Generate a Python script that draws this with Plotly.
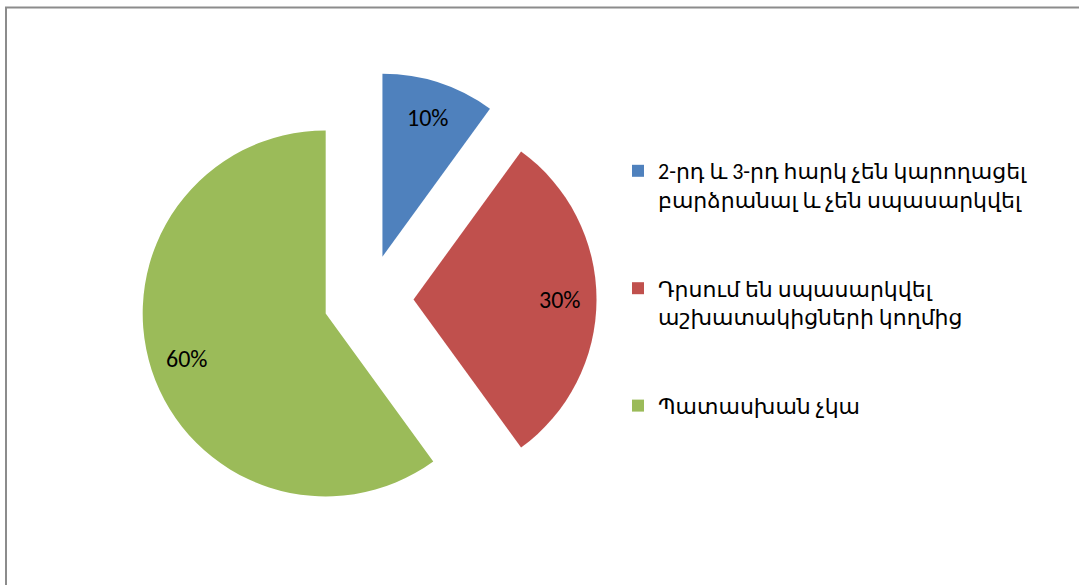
import math
import plotly.graph_objects as go

labels = [
    "2-րդ և 3-րդ հարկ չեն կարողացել<br>բարձրանալ և չեն սպասարկվել",
    "Դրսում են սպասարկվել<br>աշխատակիցների կողմից",
    "Պատասխան չկա",
]
values = [10, 30, 60]
colors = ["#4F81BD", "#C0504D", "#9BBB59"]
pulls = [0.246, 0.246, 0.246]

W, H = 1079, 585
cx, cy = 368.5, 299.5   # pie centre, px
radius = 183.0          # px
box = radius * (2 + 2 * max(pulls))
dom_x = [(cx - box / 2) / W, (cx + box / 2) / W]
dom_y = [1 - (cy + box / 2) / H, 1 - (cy - box / 2) / H]

legend_labels = [lab + "<br> <br> " if i < len(labels) - 1 else lab for i, lab in enumerate(labels)]

fig = go.Figure(
    go.Pie(
        labels=legend_labels,
        values=values,
        marker=dict(colors=colors, line=dict(width=0)),
        pull=pulls,
        sort=False,
        direction="clockwise",
        rotation=0,
        textinfo="none",
        hoverinfo="label+percent",
        domain=dict(x=dom_x, y=dom_y),
    )
)

# percentage labels placed along each slice's mid-angle
total = sum(values)
start = 0.0
for v, p in zip(values, pulls):
    frac = v / total
    mid = (start + frac / 2) * 2 * math.pi
    rr = radius * (p + 0.8)
    lx = cx + rr * math.sin(mid)
    ly = cy - rr * math.cos(mid)
    fig.add_annotation(
        x=lx / W, y=1 - ly / H, xref="paper", yref="paper",
        text=f"{round(frac * 100)}%", showarrow=False,
        font=dict(size=24, color="#000000", family="Carlito, Liberation Sans, DejaVu Sans"),
        xanchor="center", yanchor="middle",
    )
    start += frac

# chart area border
fig.add_shape(
    type="rect", xref="paper", yref="paper",
    x0=6 / W, x1=1.02, y0=-0.02, y1=1 - 7.5 / H,
    line=dict(color="#8c8c8c", width=2), fillcolor="rgba(0,0,0,0)", layer="below",
)

fig.update_layout(
    width=W, height=H,
    margin=dict(l=0, r=0, t=0, b=0),
    paper_bgcolor="white", plot_bgcolor="white",
    showlegend=True,
    legend=dict(
        x=618 / W, y=1 - 150 / H, xanchor="left", yanchor="top",
        valign="top",
        font=dict(size=22, color="#000000", family="Carlito, Liberation Sans, DejaVu Sans"),
        bgcolor="rgba(0,0,0,0)",
        itemclick=False, itemdoubleclick=False,
    ),
)

fig.write_html(
    "out.html",
    config={"displayModeBar": False},
    post_script="document.body.style.margin='0';document.body.style.overflow='hidden';",
)
